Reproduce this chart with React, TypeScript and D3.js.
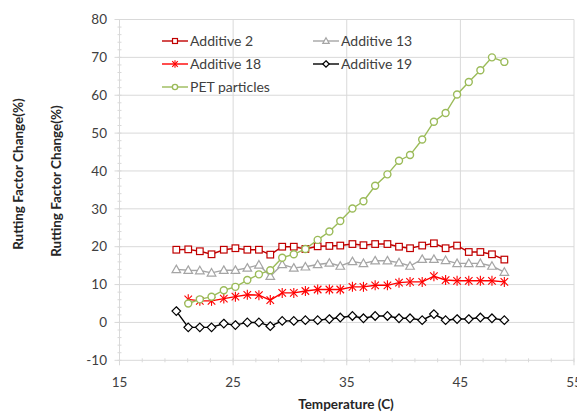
import React from "react";
import * as d3 from "d3";

const temps = [20.0, 21.05, 22.07, 23.1, 24.18, 25.2, 26.25, 27.27, 28.27, 29.32, 30.34, 31.36, 32.44, 33.47, 34.43, 35.5, 36.47, 37.5, 38.58, 39.6, 40.57, 41.64, 42.67, 43.7, 44.71, 45.74, 46.76, 47.78, 48.87];

const additive2 = [19.2, 19.3, 18.8, 18.0, 19.2, 19.6, 19.2, 19.2, 17.9, 20.0, 20.0, 19.4, 20.1, 20.2, 20.3, 20.7, 20.4, 20.7, 20.7, 20.0, 19.6, 20.3, 20.9, 19.6, 20.3, 18.6, 18.6, 18.0, 16.6];
const additive13 = [14.0, 13.8, 13.7, 13.1, 13.8, 13.8, 14.4, 15.2, 12.2, 15.3, 14.4, 14.7, 15.3, 15.7, 14.9, 16.1, 15.6, 16.3, 16.3, 15.8, 14.9, 16.7, 16.7, 16.4, 15.6, 15.6, 15.6, 14.9, 13.3];
// starts at the second temperature
const additive18 = [6.1, 5.7, 5.7, 6.3, 6.8, 7.3, 7.2, 5.9, 7.8, 7.8, 8.3, 8.7, 8.7, 8.7, 9.4, 9.4, 9.8, 9.8, 10.5, 10.7, 10.7, 12.2, 11.2, 11.0, 11.0, 11.0, 11.0, 10.7];
const additive19 = [3.0, -1.3, -1.3, -1.3, -0.3, -0.7, 0.0, 0.0, -1.0, 0.4, 0.4, 0.6, 0.6, 0.9, 1.3, 1.7, 1.1, 1.7, 1.7, 1.1, 1.1, 0.6, 2.2, 0.6, 0.9, 0.9, 1.3, 1.1, 0.6];
// starts at the second temperature
const petParticles = [5.0, 6.1, 6.8, 8.5, 9.4, 11.2, 12.7, 13.8, 17.1, 18.0, 19.4, 21.8, 24.0, 26.8, 30.1, 32.0, 36.1, 39.1, 42.7, 44.2, 48.3, 53.0, 55.3, 60.2, 63.5, 66.6, 70.0, 68.8];

const xTicks = [15, 25, 35, 45, 55];
const yTicks = [-10, 0, 10, 20, 30, 40, 50, 60, 70, 80];

type Marker = "square" | "triangle" | "star" | "diamond" | "circle";
type Series = { name: string; color: string; marker: Marker; values: number[]; offset: number };

const series: Series[] = [
  { name: "Additive 2", color: "#C00000", marker: "square", values: additive2, offset: 0 },
  { name: "Additive 13", color: "#A5A5A5", marker: "triangle", values: additive13, offset: 0 },
  { name: "Additive 18", color: "#FF0000", marker: "star", values: additive18, offset: 1 },
  { name: "Additive 19", color: "#000000", marker: "diamond", values: additive19, offset: 0 },
  { name: "PET particles", color: "#9BBB59", marker: "circle", values: petParticles, offset: 1 },
];

const W = 577, H = 412;
const x = d3.scaleLinear().domain([15, 55]).range([119.5, 574]);
const y = d3.scaleLinear().domain([-10, 80]).range([360.3, 19.5]);
const FONT = "Lato, 'Open Sans', sans-serif";
const GRID = "#D9D9D9";

function MarkerShape({ type, cx, cy, color, scale = 1 }: { type: Marker; cx: number; cy: number; color: string; scale?: number }) {
  const s = scale;
  if (type === "square") {
    const h = 3.3 * s;
    return <rect x={cx - h} y={cy - h} width={2 * h} height={2 * h} fill="#fff" stroke={color} strokeWidth={1.2} />;
  }
  if (type === "triangle") {
    const r = 4.3 * s;
    const p = `${cx},${cy - r} ${cx + r},${cy + r * 0.75} ${cx - r},${cy + r * 0.75}`;
    return <polygon points={p} fill="#fff" stroke={color} strokeWidth={1.2} />;
  }
  if (type === "diamond") {
    const r = 4.3 * s;
    const p = `${cx},${cy - r} ${cx + r},${cy} ${cx},${cy + r} ${cx - r},${cy}`;
    return <polygon points={p} fill="#fff" stroke={color} strokeWidth={1.2} />;
  }
  if (type === "circle") {
    return <circle cx={cx} cy={cy} r={3.5 * s} fill="#fff" stroke={color} strokeWidth={1.4} />;
  }
  const r = 5 * s;
  const d = r * 0.75;
  return (
    <g stroke={color} strokeWidth={1.1}>
      <line x1={cx} y1={cy - r} x2={cx} y2={cy + r} />
      <line x1={cx - d} y1={cy - d} x2={cx + d} y2={cy + d} />
      <line x1={cx - d} y1={cy + d} x2={cx + d} y2={cy - d} />
    </g>
  );
}

export default function App() {
  const minorX = d3.range(15, 55.01, 2);
  const minorY = d3.range(-10, 80.01, 2);
  const line = d3.line<[number, number]>().x((d) => x(d[0])).y((d) => y(d[1]));

  const legend = [
    { s: series[0], lx: 162, ly: 41 },
    { s: series[1], lx: 313, ly: 41 },
    { s: series[2], lx: 162, ly: 64 },
    { s: series[3], lx: 313, ly: 64 },
    { s: series[4], lx: 162, ly: 87 },
  ];

  return (
    <svg width={W} height={H} style={{ position: "absolute", left: 0, top: 0, background: "#fff" }} fontFamily={FONT}>
      <rect width={W} height={H} fill="#fff" />
      {/* gridlines */}
      {yTicks.map((t) => (
        <line key={"gy" + t} x1={x(15)} x2={x(55)} y1={y(t)} y2={y(t)} stroke={GRID} strokeWidth={1} />
      ))}
      {xTicks.map((t) => (
        <line key={"gx" + t} x1={x(t)} x2={x(t)} y1={y(-10)} y2={y(80)} stroke={GRID} strokeWidth={1} />
      ))}
      {/* minor ticks */}
      {minorY.map((t) => (
        <line key={"my" + t} x1={x(15) - 2} x2={x(15) + 2} y1={y(t)} y2={y(t)} stroke={GRID} strokeWidth={1} />
      ))}
      {minorX.map((t) => (
        <line key={"mx" + t} x1={x(t)} x2={x(t)} y1={y(-10) - 2} y2={y(-10) + 2} stroke={GRID} strokeWidth={1} />
      ))}
      {/* major ticks */}
      {yTicks.map((t) => (
        <line key={"ty" + t} x1={x(15) - 5} x2={x(15)} y1={y(t)} y2={y(t)} stroke={GRID} strokeWidth={1} />
      ))}
      {xTicks.map((t) => (
        <line key={"tx" + t} x1={x(t)} x2={x(t)} y1={y(-10)} y2={y(-10) + 5} stroke={GRID} strokeWidth={1} />
      ))}
      {/* tick labels */}
      {yTicks.map((t) => (
        <text key={"ly" + t} x={107} y={y(t)} dy="0.35em" textAnchor="end" fontSize={13.5} fill="#404040">
          {t}
        </text>
      ))}
      {xTicks.map((t) => (
        <text key={"lx" + t} x={x(t)} y={382} dy="0.35em" textAnchor="middle" fontSize={13.5} fill="#404040">
          {t}
        </text>
      ))}
      {/* axis titles */}
      <text x={346} y={404} dy="0.35em" textAnchor="middle" fontSize={13.5} fontWeight="bold" fill="#262626">
        Temperature (C)
      </text>
      <text transform="translate(18,174) rotate(-90)" dy="0.35em" textAnchor="middle" fontSize={13.5} fontWeight="bold" fill="#262626">
        Rutting Factor Change(%)
      </text>
      <text transform="translate(56,181) rotate(-90)" dy="0.35em" textAnchor="middle" fontSize={13.5} fontWeight="bold" fill="#262626">
        Rutting Factor Change(%)
      </text>
      {/* series */}
      {series.map((s) => {
        const pts: [number, number][] = s.values.map((v, i) => [temps[i + s.offset], v]);
        return (
          <g key={s.name}>
            <path d={line(pts) || ""} fill="none" stroke={s.color} strokeWidth={1.4} />
            {pts.map((p, i) => (
              <MarkerShape key={i} type={s.marker} cx={x(p[0])} cy={y(p[1])} color={s.color} />
            ))}
          </g>
        );
      })}
      {/* legend */}
      {legend.map(({ s, lx, ly }) => (
        <g key={"lg" + s.name}>
          <line x1={lx} x2={lx + 26} y1={ly} y2={ly} stroke={s.color} strokeWidth={1.4} />
          <MarkerShape type={s.marker} cx={lx + 13} cy={ly} color={s.color} scale={0.75} />
          <text x={lx + 28} y={ly} dy="0.35em" fontSize={14} fill="#404040">
            {s.name}
          </text>
        </g>
      ))}
    </svg>
  );
}
